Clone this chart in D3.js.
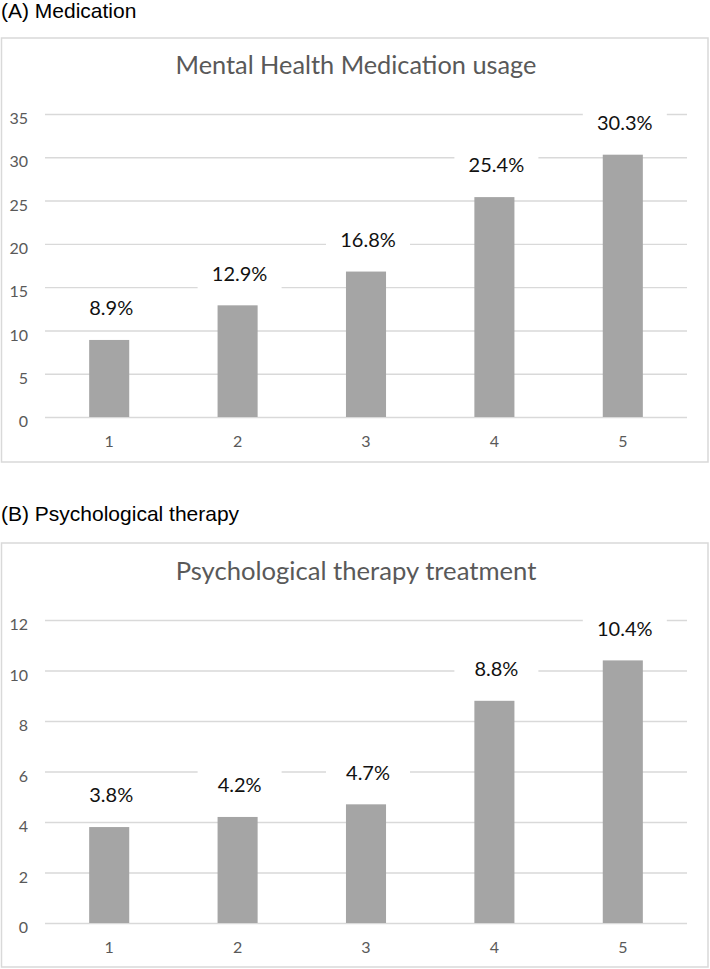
<!DOCTYPE html>
<html>
<head>
<meta charset="utf-8">
<script src="https://cdn.jsdelivr.net/npm/d3@7/dist/d3.min.js"></script>
<style>
  html, body { margin: 0; padding: 0; background: #fff; }
  svg { display: block; }
</style>
</head>
<body>
<svg id="chart" width="710" height="969"></svg>
<script>
// ---- data ----
const categories = ["1", "2", "3", "4", "5"];
const medicationValues = [8.9, 12.9, 16.8, 25.4, 30.3];
const therapyValues = [3.8, 4.2, 4.7, 8.8, 10.4];
const medicationTicks = [0, 5, 10, 15, 20, 25, 30, 35];
const therapyTicks = [0, 2, 4, 6, 8, 10, 12];
const panelLabels = ["(A) Medication", "(B) Psychological therapy"];
const chartTitles = ["Mental Health Medication usage", "Psychological therapy treatment"];

// ---- layout ----
const svg = d3.select("#chart");
const FONT = "Lato, 'Open Sans', sans-serif";
const gray = "#595959";
const gridColor = "#d9d9d9";
const barColor = "#a5a5a5";

const panels = [
  { label: panelLabels[0], title: chartTitles[0], values: medicationValues, ticks: medicationTicks,
    labelBase: 18, boxTop: 38, boxBottom: 462, titleBase: 74, yTop: 114, yZero: 417 },
  { label: panelLabels[1], title: chartTitles[1], values: therapyValues, ticks: therapyTicks,
    labelBase: 521, boxTop: 543, boxBottom: 967, titleBase: 580, yTop: 620, yZero: 923 }
];

const plotLeft = 45, plotRight = 687;

panels.forEach(p => {
  const g = svg.append("g");

  // panel label
  g.append("text")
    .attr("x", 1).attr("y", p.labelBase)
    .attr("font-family", "'Liberation Sans', Arial, sans-serif")
    .attr("font-size", 21).attr("fill", "#000")
    .text(p.label);

  // chart border
  g.append("rect")
    .attr("x", 1.5).attr("y", p.boxTop)
    .attr("width", 706.5).attr("height", p.boxBottom - p.boxTop)
    .attr("fill", "#fff").attr("stroke", gridColor).attr("stroke-width", 1.5);

  // title, fitted to the reference width
  const t = g.append("text")
    .attr("x", 356).attr("y", p.titleBase)
    .attr("text-anchor", "middle")
    .attr("font-family", FONT).attr("font-size", 26)
    .attr("fill", gray)
    .text(p.title);
  const w = t.node().getComputedTextLength();
  t.attr("font-size", 26 * 361 / w);

  const x = d3.scaleBand().domain(categories)
    .range([plotLeft, plotRight])
    .paddingInner(0.688).paddingOuter(0.344);
  const maxTick = p.ticks[p.ticks.length - 1];
  const y = d3.scaleLinear().domain([0, maxTick]).range([p.yZero, p.yTop]);

  // y axis with gridlines
  const ya = g.append("g")
    .attr("transform", `translate(${plotLeft},0)`)
    .call(d3.axisLeft(y).tickValues(p.ticks)
      .tickSizeInner(-(plotRight - plotLeft)).tickSizeOuter(0).tickPadding(17));
  ya.select(".domain").remove();
  ya.selectAll(".tick line").attr("stroke", gridColor).attr("stroke-width", 1.4);
  ya.selectAll(".tick text")
    .attr("font-family", FONT).attr("font-size", 16)
    .attr("fill", gray).attr("dy", "0.6em");

  // x axis
  const xa = g.append("g")
    .attr("transform", `translate(0,${p.yZero})`)
    .call(d3.axisBottom(x).tickSize(0).tickPadding(18.5));
  xa.select(".domain").remove();
  xa.selectAll(".tick text")
    .attr("font-family", FONT).attr("font-size", 16).attr("fill", gray);

  // bars
  g.selectAll(".bar").data(p.values).enter().append("rect")
    .attr("class", "bar")
    .attr("x", (d, i) => x(categories[i]))
    .attr("width", x.bandwidth())
    .attr("y", d => y(d))
    .attr("height", d => p.yZero - y(d))
    .attr("fill", barColor);

  // data labels with white background
  const lab = g.selectAll(".lab").data(p.values).enter().append("g")
    .attr("class", "lab")
    .attr("transform", (d, i) => `translate(${x(categories[i]) + x.bandwidth() / 2 + 2},${y(d) - 32})`);
  lab.append("rect")
    .attr("x", -42).attr("y", -19).attr("width", 84).attr("height", 38)
    .attr("fill", "#fff");
  lab.append("text")
    .attr("text-anchor", "middle")
    .attr("dy", "0.36em")
    .attr("font-family", FONT).attr("font-size", 20).attr("fill", "#111")
    .text(d => d3.format(".1f")(d) + "%");
});
</script>
</body>
</html>
